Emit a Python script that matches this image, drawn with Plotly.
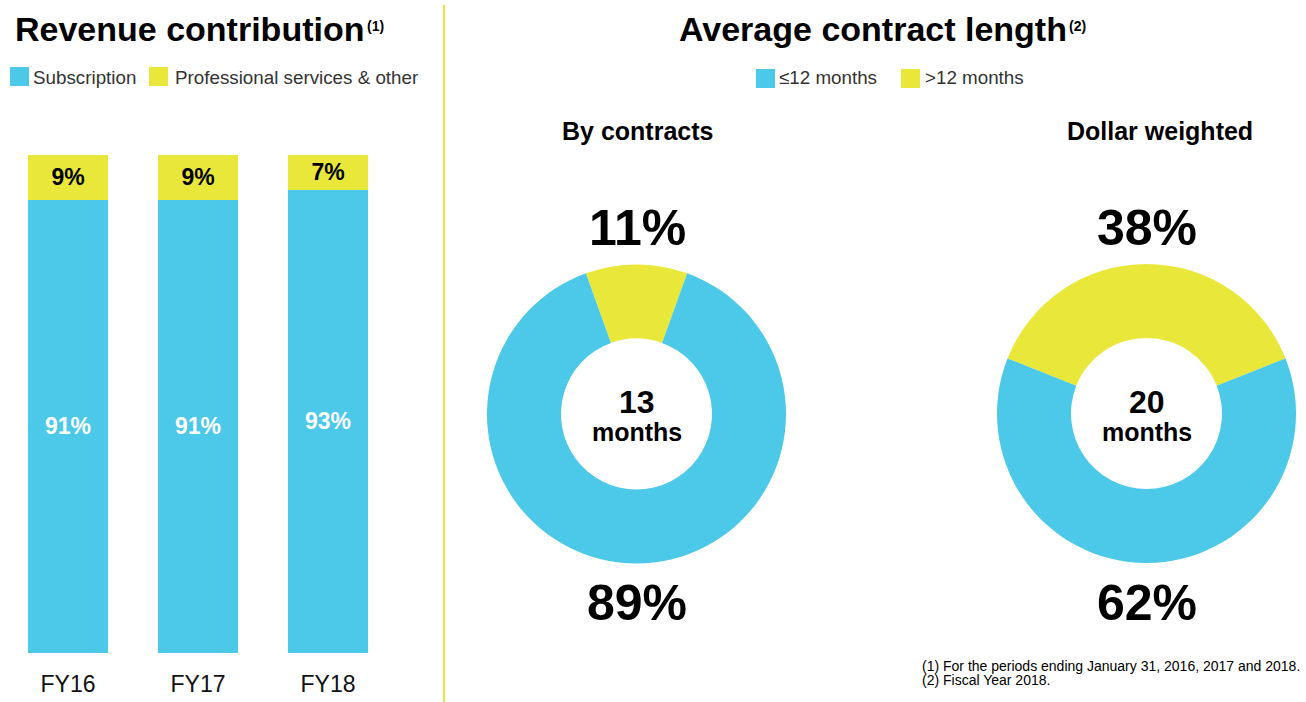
import plotly.graph_objects as go

# ---------------- data ----------------
years = ["FY16", "FY17", "FY18"]
subscription = [91, 91, 93]
prof_services = [9, 9, 7]

donut_labels = ["&gt;12 months", "≤12 months"]
by_contracts = [11, 89]
dollar_weighted = [38, 62]
avg_months = [13, 20]

# ---------------- style ----------------
W, H = 1306, 702
BLUE = "#4CC8E8"
YELLOW = "#E9E83A"
FONT = "Liberation Sans, Arial, sans-serif"


def px(x):
    return x / W


def py(y):
    return 1 - y / H


fig = go.Figure()

# stacked bars
fig.add_trace(go.Bar(
    x=years, y=subscription, name="Subscription", marker_color=BLUE,
    marker_line_width=0,
    texttemplate="<b>%{y}%</b>", textposition="inside", insidetextanchor="middle",
    textangle=0, textfont=dict(family=FONT, size=23, color="white"),
    showlegend=False, hoverinfo="skip",
))
fig.add_trace(go.Bar(
    x=years, y=prof_services, name="Professional services & other", marker_color=YELLOW,
    marker_line_width=0,
    texttemplate="<b>%{y}%</b>", textposition="inside", insidetextanchor="middle",
    textangle=0, textfont=dict(family=FONT, size=23, color="black"),
    showlegend=False, hoverinfo="skip",
))

# donuts
def donut(values, x0, x1, y0, y1):
    return go.Pie(
        labels=["&gt;12 months", "≤12 months"], values=values, sort=False,
        direction="clockwise", rotation=-values[0] * 3.6 / 2,
        hole=0.505, marker=dict(colors=[YELLOW, BLUE], line=dict(width=0)),
        textinfo="none", hoverinfo="skip", showlegend=False,
        domain=dict(x=[px(x0), px(x1)], y=[py(y1), py(y0)]),
    )

fig.add_trace(donut(by_contracts, 487, 786, 264.5, 563.5))
fig.add_trace(donut(dollar_weighted, 997, 1296, 264, 563))

fig.update_layout(
    width=W, height=H, margin=dict(l=0, r=0, t=0, b=0),
    paper_bgcolor="white", plot_bgcolor="white",
    barmode="stack", bargap=50 / 130,
    font=dict(family=FONT),
    xaxis=dict(domain=[px(3), px(393)], showgrid=False, zeroline=False, showline=False,
               ticks="", tickfont=dict(family=FONT, size=23, color="#111111"),
               ticklabelstandoff=15, fixedrange=True),
    yaxis=dict(domain=[py(653), py(155)], range=[0, 100], visible=False, fixedrange=True),
)

ann = []

def text(x, y, t, size, bold=False, color="black", xanchor="center"):
    ann.append(dict(x=px(x), y=py(y), xref="paper", yref="paper", showarrow=False,
                    text=f"<b>{t}</b>" if bold else t, xanchor=xanchor, yanchor="middle",
                    font=dict(family=FONT, size=size, color=color)))

# titles
text(13, 29, "Revenue contribution", 34, True, xanchor="left")
text(365, 26, "(1)", 14, True, xanchor="left")
text(677, 29, "Average contract length", 34, True, xanchor="left")
text(1067, 26, "(2)", 14, True, xanchor="left")

# legends (manual swatches)
shapes = []

def swatch(x0, y0, color):
    shapes.append(dict(type="rect", xref="paper", yref="paper",
                       x0=px(x0), x1=px(x0 + 19), y0=py(y0 + 19), y1=py(y0),
                       fillcolor=color, line=dict(width=0)))

swatch(10, 67, BLUE)
text(31, 77, "Subscription", 18.8, color="#333333", xanchor="left")
swatch(149, 67, YELLOW)
text(173, 77, "Professional services &amp; other", 18.8, color="#333333", xanchor="left")

swatch(756, 69, BLUE)
text(777, 77, donut_labels[1], 18.8, color="#333333", xanchor="left")
swatch(901, 69, YELLOW)
text(923, 77, donut_labels[0], 18.8, color="#333333", xanchor="left")

# separator
shapes.append(dict(type="line", xref="paper", yref="paper", x0=px(444), x1=px(444),
                   y0=py(702), y1=py(5), line=dict(color=YELLOW, width=2)))

# donut subtitles
text(637.5, 131, "By contracts", 25, True)
text(1159.5, 131, "Dollar weighted", 25, True)

# donut percentages
text(637, 228, f"{by_contracts[0]}%", 50, True)
text(637, 603, f"{by_contracts[1]}%", 50, True)
text(1147, 228, f"{dollar_weighted[0]}%", 50, True)
text(1147, 603, f"{dollar_weighted[1]}%", 50, True)

# center labels
text(636.5, 402, f"{avg_months[0]}", 32, True)
text(636.5, 432, "months", 25, True)
text(1147, 402, f"{avg_months[1]}", 32, True)
text(1147, 432, "months", 25, True)

# footnotes
text(920, 666, "(1) For the periods ending January 31, 2016, 2017 and 2018.", 14, xanchor="left")
text(920, 680, "(2) Fiscal Year 2018.", 14, xanchor="left")

fig.update_layout(annotations=ann, shapes=shapes)

fig.write_html("out.html", config={"displayModeBar": False, "responsive": False},
               post_script="document.body.style.margin='0';")
